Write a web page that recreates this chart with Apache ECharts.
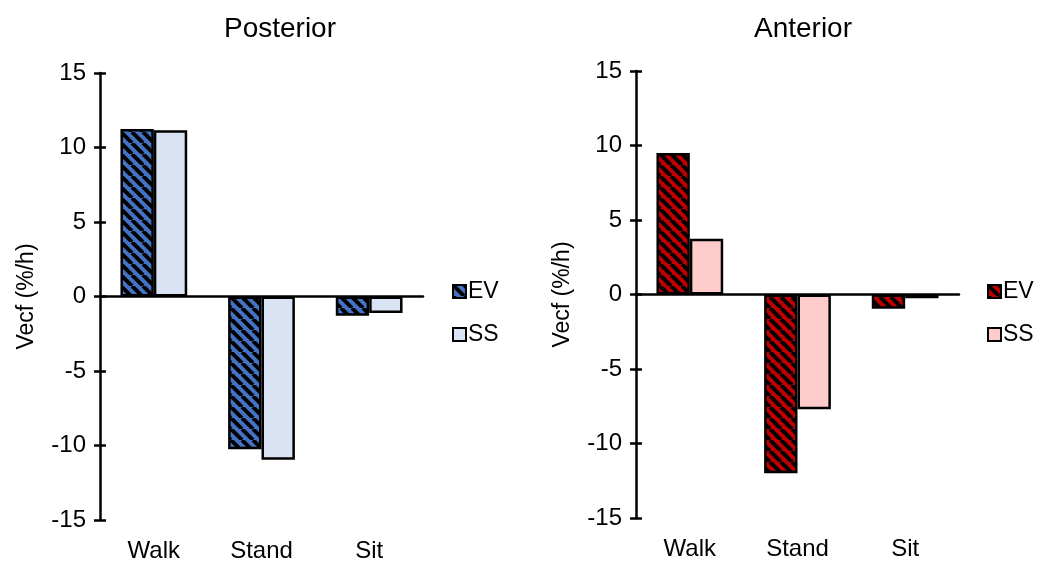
<!DOCTYPE html>
<html>
<head>
<meta charset="utf-8">
<script src="https://cdn.jsdelivr.net/npm/echarts@6/dist/echarts.min.js"></script>
<style>
  html, body { margin: 0; padding: 0; background: #fff; }
  #chart { width: 1044px; height: 563px; }
</style>
</head>
<body>
<div id="chart"></div>
<script>
// Categories and values (Vecf, %/h)
const categories = ['Walk', 'Stand', 'Sit'];
const posteriorEV = [11.25, -10.25, -1.3];
const posteriorSS = [11.15, -10.95, -1.1];
const anteriorEV = [9.5, -12.0, -0.95];
const anteriorSS = [3.75, -7.7, -0.25];
const yMin = -15, yMax = 15, yStep = 5;

const FONT = '"Liberation Sans", Arial, sans-serif';
const INK = '#000';

// Diagonal hatch fill: coloured background with black "\" stripes
function hatch(bg) {
  const s = 11;
  const c = document.createElement('canvas');
  c.width = s; c.height = s;
  const g = c.getContext('2d');
  g.fillStyle = bg;
  g.fillRect(0, 0, s, s);
  g.strokeStyle = '#000';
  g.lineWidth = 3.9;
  for (const k of [-s, 0, s]) {
    g.beginPath();
    g.moveTo(k, 0);
    g.lineTo(k + s, s);
    g.stroke();
  }
  return { image: c, repeat: 'repeat' };
}

const blueHatch = hatch('#4472C4');
const redHatch = hatch('#C00000');
const lightBlue = '#DAE3F3';
const lightPink = '#FFCCCC';

const panels = [
  { title: 'Posterior', titleX: 275, left: 100, top: 73, height: 448, ev: posteriorEV, ss: posteriorSS, evFill: blueHatch, ssFill: lightBlue, legendX: 447 },
  { title: 'Anterior', titleX: 798, left: 636, top: 71, height: 447, ev: anteriorEV, ss: anteriorSS, evFill: redHatch, ssFill: lightPink, legendX: 982 }
];

const option = {
  animation: false,
  backgroundColor: '#fff',
  title: [], grid: [], xAxis: [], yAxis: [], series: [], legend: []
};

panels.forEach((p, i) => {
  option.title.push({
    text: p.title, left: p.titleX, top: 10, textAlign: 'center',
    textStyle: { fontFamily: FONT, fontSize: 28, fontWeight: 'normal', color: INK }
  });
  option.grid.push({ left: p.left, top: p.top, width: 323, height: p.height });

  // category labels along the bottom
  option.xAxis.push({
    type: 'category', gridIndex: i, data: categories, position: 'bottom',
    axisLine: { show: false, onZero: false }, axisTick: { show: false },
    axisLabel: { margin: 19, fontFamily: FONT, fontSize: 24, color: INK }
  });
  // zero baseline
  option.xAxis.push({
    type: 'category', gridIndex: i, data: categories,
    axisLine: { show: true, onZero: true, lineStyle: { color: INK, width: 2.5 } },
    axisTick: { show: false }, axisLabel: { show: false }
  });

  // value axis with outward ticks and labels
  option.yAxis.push({
    type: 'value', gridIndex: i, min: yMin, max: yMax, interval: yStep, position: 'left',
    name: 'Vecf (%/h)', nameLocation: 'middle', nameGap: 62,
    nameTextStyle: { fontFamily: FONT, fontSize: 23, color: INK },
    axisLine: { show: true, lineStyle: { color: INK, width: 2.5 } },
    axisTick: { show: true, length: 6, lineStyle: { color: INK, width: 2.5 } },
    axisLabel: { margin: 14, fontFamily: FONT, fontSize: 24, color: INK },
    splitLine: { show: false }
  });
  // inward half of the cross ticks
  option.yAxis.push({
    type: 'value', gridIndex: i, min: yMin, max: yMax, interval: yStep, position: 'left',
    axisLine: { show: false },
    axisTick: { show: true, inside: true, length: 6, lineStyle: { color: INK, width: 2.5 } },
    axisLabel: { show: false }, splitLine: { show: false }
  });

  const xa = i * 2, ya = i * 2;
  option.series.push({
    name: 'EV', type: 'bar', xAxisIndex: xa, yAxisIndex: ya, data: p.ev,
    barGap: '0%', barCategoryGap: '38%',
    itemStyle: { color: p.evFill, borderColor: INK, borderWidth: 2.5 }
  });
  option.series.push({
    name: 'SS', type: 'bar', xAxisIndex: xa, yAxisIndex: ya, data: p.ss,
    barGap: '0%', barCategoryGap: '38%',
    itemStyle: { color: p.ssFill, borderColor: INK, borderWidth: 2.5 }
  });

  option.legend.push({
    orient: 'vertical', left: p.legendX, top: 275, itemWidth: 13, itemHeight: 13,
    itemGap: 20, selectedMode: false, icon: 'rect',
    textStyle: { fontFamily: FONT, fontSize: 23, color: INK, lineHeight: 20, padding: [0, 0, 0, -3] },
    data: [
      { name: 'EV', itemStyle: { color: p.evFill, borderColor: INK, borderWidth: 2 } },
      { name: 'SS', itemStyle: { color: p.ssFill, borderColor: INK, borderWidth: 2 } }
    ]
  });
});

const chart = echarts.init(document.getElementById('chart'), null, { renderer: 'canvas' });
chart.setOption(option);
</script>
</body>
</html>
